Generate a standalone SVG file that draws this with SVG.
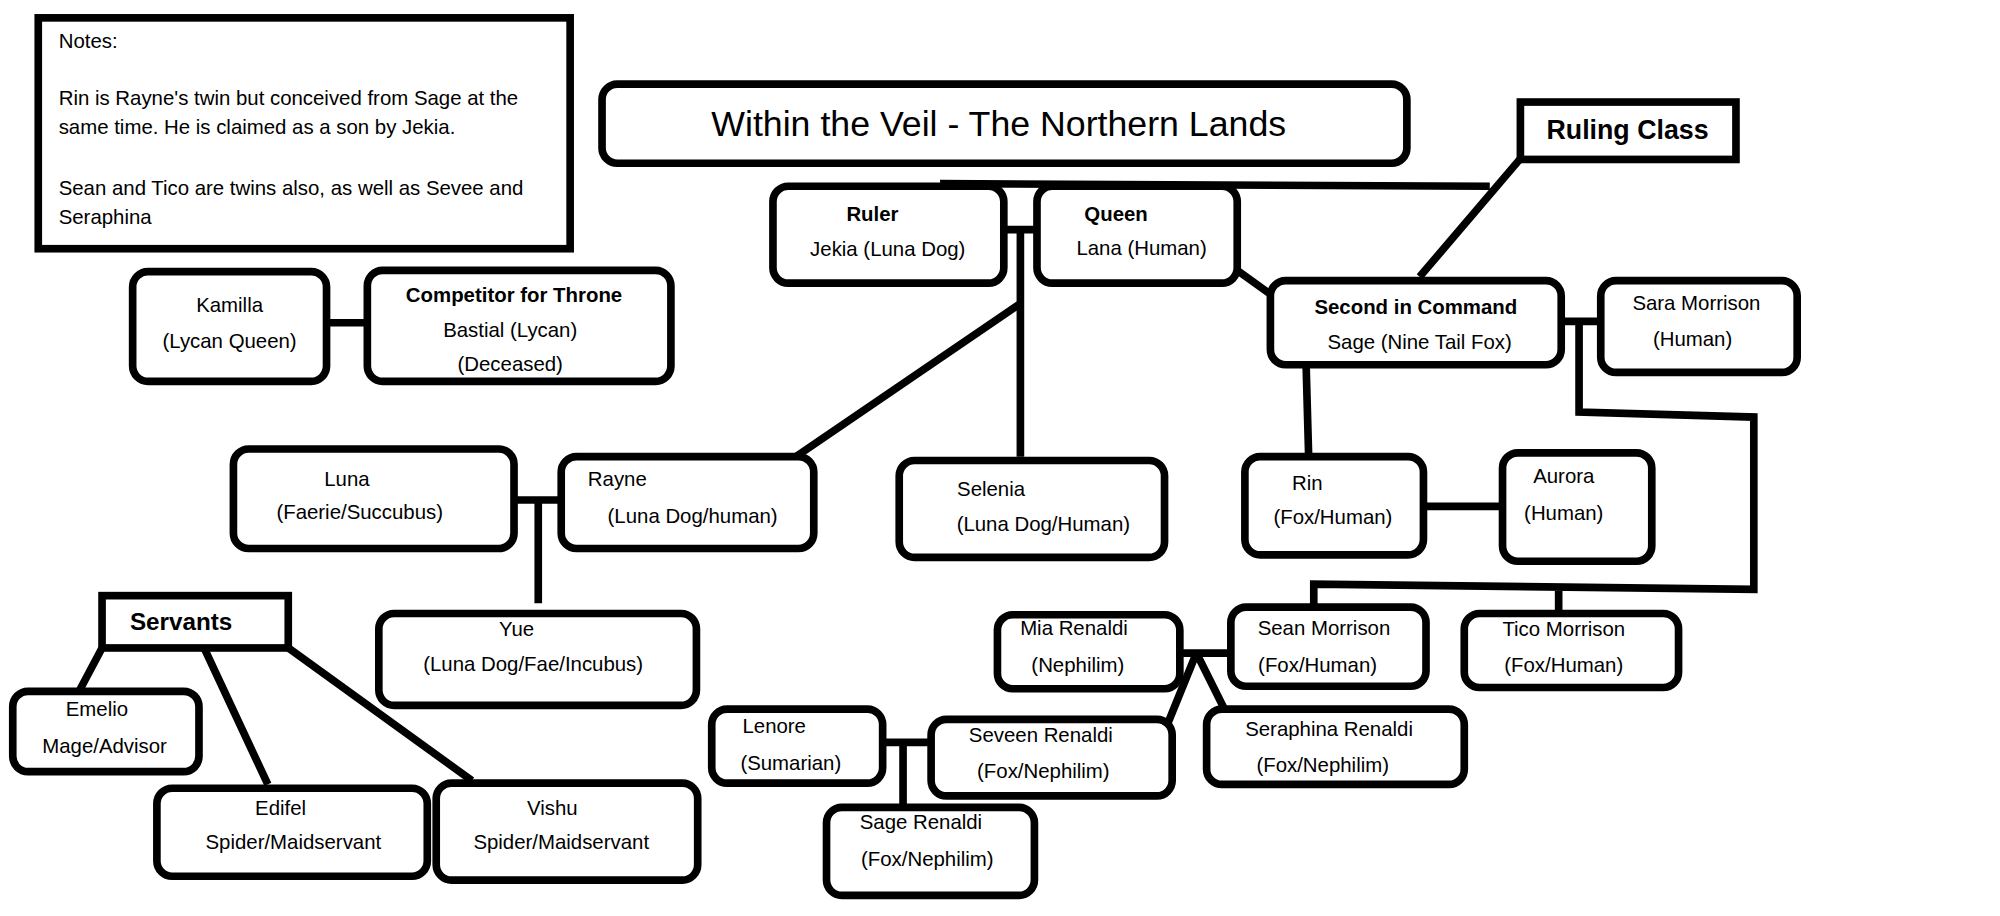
<svg xmlns="http://www.w3.org/2000/svg" width="2000" height="916" viewBox="0 0 2000 916">
<style>
.n{fill:#fff;stroke:#000;stroke-width:6}
.c{fill:none;stroke:#000;stroke-width:6}
text{font-family:"Liberation Sans",Arial,sans-serif;font-size:16px;fill:#000;text-anchor:middle}
.b{font-weight:bold}
.l{text-anchor:start}
</style>
<rect width="2000" height="916" fill="#fff"/>
<g transform="scale(1.2755)">
<g id="connectors">
<path class="c" d="M737,144 L1168,146 M1194,122 L1113,217 M787,180 H813 M800,180 V358 M800,238 L624,358 M970,212 L1002,235 M256,253 H288 M1224,252 H1255 M1238,252 V323 L1375,327 V462 L1030,458 V478 M1222,461 V480 M1024,286 L1026,358 M1116,397 H1178 M403,392 H440 M422,392 V473 M80,508 L62,542 M160,508 L210,615 M226,508 L370,612 M925,512 H965 M938,512 L916,566 M938,512 L960,556 M692,582 H730 M708,582 V640"/>
</g>
<g id="notes"><rect x="30" y="14" width="417" height="181" fill="#fff" stroke="#000" stroke-width="6"/>
<text class="l" x="46" y="38">Notes:</text>
<text class="l" x="46" y="82">Rin is Rayne's twin but conceived from Sage at the</text>
<text class="l" x="46" y="105">same time. He is claimed as a son by Jekia.</text>
<text class="l" x="46" y="153">Sean and Tico are twins also, as well as Sevee and</text>
<text class="l" x="46" y="176">Seraphina</text></g>
<g id="title"><rect class="n" x="472" y="66" width="631" height="62" rx="12"/><text x="783" y="107" style="font-size:28px">Within the Veil - The Northern Lands</text></g>
<g id="ruling"><rect x="1192" y="80" width="169" height="45" fill="#fff" stroke="#000" stroke-width="6"/><text class="b" x="1276" y="109" style="font-size:21px">Ruling Class</text></g>
<g id="ruler"><rect class="n" x="606" y="146" width="181" height="76" rx="12"/><text class="b" x="684" y="173">Ruler</text><text x="696" y="201">Jekia (Luna Dog)</text></g>
<g id="queen"><rect class="n" x="813" y="146" width="157" height="76" rx="12"/><text class="b" x="875" y="173">Queen</text><text x="895" y="200">Lana (Human)</text></g>
<g id="kamilla"><rect class="n" x="104" y="213" width="152" height="86" rx="12"/><text x="180" y="245">Kamilla</text><text x="180" y="273">(Lycan Queen)</text></g>
<g id="bastial"><rect class="n" x="288" y="212" width="238" height="87" rx="12"/><text class="b" x="403" y="237">Competitor for Throne</text><text x="400" y="264">Bastial (Lycan)</text><text x="400" y="291">(Deceased)</text></g>
<g id="sage"><rect class="n" x="996" y="220" width="228" height="66" rx="12"/><text class="b" x="1110" y="246">Second in Command</text><text x="1113" y="274">Sage (Nine Tail Fox)</text></g>
<g id="sara"><rect class="n" x="1255" y="220" width="154" height="72" rx="12"/><text x="1330" y="243">Sara Morrison</text><text x="1327" y="271">(Human)</text></g>
<g id="rin"><rect class="n" x="976" y="358" width="140" height="77" rx="12"/><text x="1025" y="384">Rin</text><text x="1045" y="411">(Fox/Human)</text></g>
<g id="aurora"><rect class="n" x="1178" y="355" width="117" height="85" rx="12"/><text x="1226" y="379">Aurora</text><text x="1226" y="408">(Human)</text></g>
<g id="selenia"><rect class="n" x="705" y="361" width="208" height="76" rx="12"/><text x="777" y="389">Selenia</text><text x="818" y="416">(Luna Dog/Human)</text></g>
<g id="rayne"><rect class="n" x="440" y="358" width="198" height="72" rx="12"/><text x="484" y="381">Rayne</text><text x="543" y="410">(Luna Dog/human)</text></g>
<g id="luna"><rect class="n" x="183" y="352" width="220" height="78" rx="12"/><text x="272" y="381">Luna</text><text x="282" y="407">(Faerie/Succubus)</text></g>
<g id="yue"><rect class="n" x="297" y="481" width="249" height="72" rx="12"/><text x="405" y="499">Yue</text><text x="418" y="526">(Luna Dog/Fae/Incubus)</text></g>
<g id="servants"><rect x="80" y="467" width="146" height="41" fill="#fff" stroke="#000" stroke-width="6"/><text class="b" x="142" y="494" style="font-size:19px">Servants</text></g>
<g id="emelio"><rect class="n" x="10" y="542" width="146" height="63" rx="12"/><text x="76" y="561">Emelio</text><text x="82" y="590">Mage/Advisor</text></g>
<g id="edifel"><rect class="n" x="123" y="618" width="212" height="69" rx="12"/><text x="220" y="639">Edifel</text><text x="230" y="666">Spider/Maidservant</text></g>
<g id="vishu"><rect class="n" x="342" y="614" width="205" height="76" rx="12"/><text x="433" y="639">Vishu</text><text x="440" y="666">Spider/Maidservant</text></g>
<g id="mia"><rect class="n" x="782" y="482" width="143" height="58" rx="12"/><text x="842" y="498">Mia Renaldi</text><text x="845" y="527">(Nephilim)</text></g>
<g id="sean"><rect class="n" x="965" y="476" width="153" height="62" rx="12"/><text x="1038" y="498">Sean Morrison</text><text x="1033" y="527">(Fox/Human)</text></g>
<g id="tico"><rect class="n" x="1148" y="481" width="168" height="58" rx="12"/><text x="1226" y="499">Tico Morrison</text><text x="1226" y="527">(Fox/Human)</text></g>
<g id="seraphina"><rect class="n" x="946" y="556" width="202" height="59" rx="12"/><text x="1042" y="577">Seraphina Renaldi</text><text x="1037" y="605">(Fox/Nephilim)</text></g>
<g id="seveen"><rect class="n" x="730" y="564" width="189" height="60" rx="12"/><text x="816" y="582">Seveen Renaldi</text><text x="818" y="610">(Fox/Nephilim)</text></g>
<g id="lenore"><rect class="n" x="558" y="556" width="134" height="58" rx="12"/><text x="607" y="575">Lenore</text><text x="620" y="604">(Sumarian)</text></g>
<g id="sagerenaldi"><rect class="n" x="648" y="633" width="163" height="69" rx="12"/><text x="722" y="650">Sage Renaldi</text><text x="727" y="679">(Fox/Nephilim)</text></g>
</g>
</svg>
